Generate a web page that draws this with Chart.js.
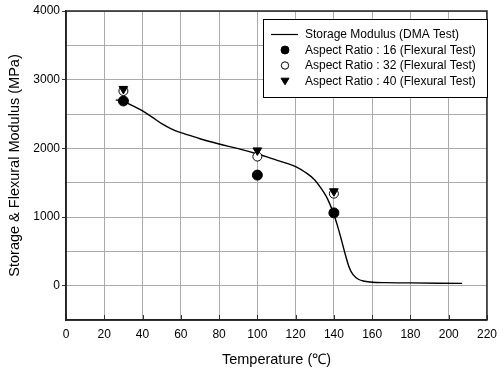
<!DOCTYPE html>
<html><head><meta charset="utf-8">
<script src="https://cdn.jsdelivr.net/npm/chart.js@4/dist/chart.umd.min.js"></script>
<style>html,body{margin:0;padding:0;background:#fff;}#wrap{width:504px;height:370px;}</style>
</head><body><div id="wrap"><canvas id="c" width="504" height="370"></canvas></div>
<script>
const curveT = [26, 30, 35, 40, 45, 50, 55, 60, 65, 70, 80, 90, 100, 105, 110, 115, 120, 125, 130, 133, 136, 138, 140, 142, 144, 146, 148, 150, 153, 156, 160, 167, 180, 195, 207];
const curveV = [2705, 2685, 2618, 2545, 2455, 2360, 2285, 2228, 2185, 2140, 2063, 1995, 1918, 1875, 1829, 1785, 1735, 1652, 1540, 1430, 1300, 1180, 1035, 860, 660, 450, 265, 160, 90, 65, 50, 44, 40, 36, 33];
const testTemps = [30, 100, 140];
const ar16 = [2690, 1610, 1060];
const ar32 = [2835, 1880, 1340];
const ar40 = [2865, 1970, 1375];
const labels = ['Storage Modulus (DMA Test)', 'Aspect Ratio : 16 (Flexural Test)', 'Aspect Ratio : 32 (Flexural Test)', 'Aspect Ratio : 40 (Flexural Test)'];
const xTitle = 'Temperature (℃)';
const yTitle = 'Storage & Flexural Modulus (MPa)';

const FONT = '"Liberation Sans", Arial, sans-serif';
const pts = (xs, ys) => xs.map((x, i) => ({x: x, y: ys[i]}));

const framePlugin = {
  id: 'frame',
  afterDatasetsDraw(chart) {
    const ctx = chart.ctx, a = chart.chartArea;
    const xs = chart.scales.x;
    ctx.save();
    ctx.strokeStyle = '#333'; ctx.lineWidth = 1;
    xs.ticks.forEach(t => {
      const px = Math.round(xs.getPixelForValue(t.value)) + 0.5;
      ctx.beginPath(); ctx.moveTo(px, a.bottom); ctx.lineTo(px, a.bottom - 5); ctx.stroke();
    });
    ctx.strokeStyle = '#222'; ctx.lineWidth = 1.5;
    ctx.strokeRect(a.left, a.top, a.right - a.left, a.bottom - a.top);
    ctx.restore();
  }
};

const legendPlugin = {
  id: 'boxLegend',
  afterDraw(chart) {
    const ctx = chart.ctx;
    const bx = 263, by = 19, bw = 224, bh = 78;
    ctx.save();
    ctx.fillStyle = '#fff';
    ctx.fillRect(bx, by, bw, bh);
    ctx.strokeStyle = '#000'; ctx.lineWidth = 1;
    ctx.strokeRect(bx + 0.5, by + 0.5, bw, bh);
    const rows = [34.5, 50, 65.5, 81];
    ctx.font = '12px ' + FONT;
    ctx.textBaseline = 'middle';
    ctx.textAlign = 'left';
    chart.data.datasets.forEach((ds, i) => {
      const y = rows[i];
      if (ds.legendLine) {
        ctx.strokeStyle = '#000'; ctx.lineWidth = 1.2;
        ctx.beginPath(); ctx.moveTo(271, y); ctx.lineTo(298, y); ctx.stroke();
      } else {
        ctx.fillStyle = ds.backgroundColor; ctx.strokeStyle = ds.borderColor;
        ctx.lineWidth = ds.borderWidth;
        ctx.beginPath();
        const r = ds.legendRadius;
        if (ds.pointStyle === 'circle') { ctx.arc(285, y, r, 0, Math.PI * 2); }
        else {
          ctx.moveTo(285 - r, y - r * 0.7); ctx.lineTo(285 + r, y - r * 0.7); ctx.lineTo(285, y + r * 0.95); ctx.closePath();
        }
        ctx.fill(); ctx.stroke();
      }
      ctx.fillStyle = '#000';
      ctx.fillText(ds.label, 305, y + 0.5);
    });
    ctx.restore();
  }
};

new Chart(document.getElementById('c'), {
  type: 'scatter',
  data: {
    datasets: [
      {type: 'line', label: labels[0], data: pts(curveT, curveV), legendLine: true, borderColor: '#000', borderWidth: 1.4,
       pointRadius: 0, tension: 0.4, cubicInterpolationMode: 'monotone', order: 4, backgroundColor: '#000', fill: false},
      {label: labels[1], data: pts(testTemps, ar16), pointStyle: 'circle', pointRadius: 5, legendRadius: 4,
       backgroundColor: '#000', borderColor: '#000', borderWidth: 1, order: 3},
      {label: labels[2], data: pts(testTemps, ar32), pointStyle: 'circle', pointRadius: 4.5, legendRadius: 3.7,
       backgroundColor: '#fff', borderColor: '#000', borderWidth: 1, order: 2},
      {label: labels[3], data: pts(testTemps, ar40), pointStyle: 'triangle', rotation: 180, pointRadius: 5, legendRadius: 4,
       backgroundColor: '#000', borderColor: '#000', borderWidth: 1, order: 1}
    ]
  },
  options: {
    responsive: false,
    animation: false,
    devicePixelRatio: 1,
    layout: {padding: {top: 11, right: 11, left: 0, bottom: 0}},
    plugins: {legend: {display: false}, tooltip: {enabled: false}},
    scales: {
      x: {
        type: 'linear', min: 0, max: 220,
        afterFit: s => { s.height = 50; },
        ticks: {stepSize: 20, color: '#000', font: {family: FONT, size: 12}, padding: 7, maxRotation: 0},
        grid: {color: '#aaa', borderDash: [1, 2], drawTicks: false, lineWidth: 1},
        border: {display: true, color: '#222', width: 1.5},
        title: {display: true, text: xTitle, color: '#000', font: {family: FONT, size: 14.5, lineHeight: 1.2}, padding: {top: 0, bottom: 1.3}}
      },
      y: {
        type: 'linear', min: -500, max: 4000,
        afterFit: s => { s.width = 66; },
        ticks: {stepSize: 500, color: '#000', font: {family: FONT, size: 12}, padding: 2,
          callback: v => (v % 1000 === 0 ? String(v) : '')},
        grid: {color: '#aaa', borderDash: [1, 2], drawTicks: true, tickLength: 4, lineWidth: 1,
          tickColor: c => (c.tick && c.tick.value % 1000 === 0 ? '#333' : 'rgba(0,0,0,0)'), tickBorderDash: []},
        border: {display: true, color: '#222', width: 1.5},
        title: {display: true, text: yTitle, color: '#000', font: {family: FONT, size: 14.5, lineHeight: 1.2}, padding: {top: 6.3, bottom: 0}}
      }
    }
  },
  plugins: [framePlugin, legendPlugin]
});
</script></body></html>
